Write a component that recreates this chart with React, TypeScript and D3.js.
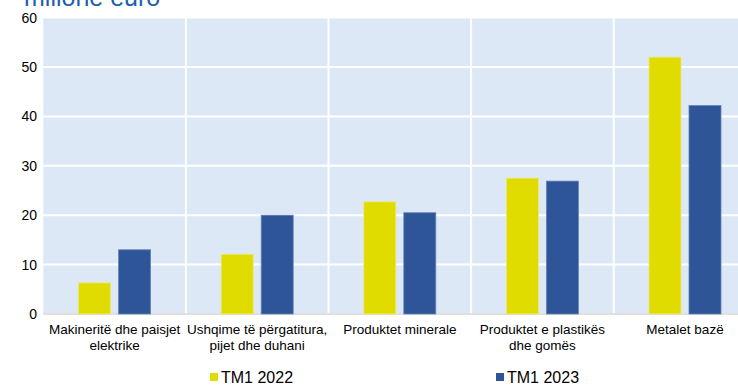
import React from "react";
import * as d3 from "d3";

const categories: string[][] = [
  ["Makineritë dhe paisjet", "elektrike"],
  ["Ushqime të përgatitura,", "pijet dhe duhani"],
  ["Produktet minerale"],
  ["Produktet e plastikës", "dhe gomës"],
  ["Metalet bazë"],
];
const values2022 = [6.3, 12.1, 22.7, 27.5, 52.0];
const values2023 = [13.0, 20.0, 20.5, 26.9, 42.2];
const yTicks = [0, 10, 20, 30, 40, 50, 60];
const seriesNames = ["TM1 2022", "TM1 2023"];

const W = 738;
const H = 385;
const COLORS = ["#e1dc00", "#2e5597"];
const BG = "#dce8f5";

export default function App() {
  const left = 43.3;
  const catW = 142.6;
  const x = d3
    .scaleBand<number>()
    .domain(d3.range(categories.length))
    .range([left, left + catW * categories.length])
    .paddingInner(0)
    .paddingOuter(0);
  const y = d3.scaleLinear().domain([0, 60]).range([314, 17.6]);

  const barW = 32;
  const offsets = [-36, 4];
  const series = [values2022, values2023];

  return (
    <svg
      width={W}
      height={H}
      style={{ position: "absolute", left: 0, top: 0, fontFamily: "Liberation Sans, Arial, sans-serif" }}
    >
      <text x={24} y={6} fontSize={25} fill="#1f5fae">
        milionë euro
      </text>
      <rect x={left} y={y(60)} width={W - left} height={y(0) - y(60)} fill={BG} />
      {yTicks.map((t) => (
        <line key={"g" + t} x1={left} x2={W} y1={y(t)} y2={y(t)} stroke="#fff" strokeWidth={2} />
      ))}
      {d3.range(1, categories.length).map((i) => (
        <line
          key={"v" + i}
          x1={x(i)!}
          x2={x(i)!}
          y1={y(60)}
          y2={y(0)}
          stroke="#fff"
          strokeWidth={2}
        />
      ))}
      <line x1={left} x2={W} y1={y(0)} y2={y(0)} stroke="#d4d4d4" strokeWidth={1.5} />
      {series.map((vals, s) =>
        vals.map((v, i) => {
          const cx = x(i)! + x.bandwidth() / 2;
          return (
            <rect
              key={`b${s}-${i}`}
              x={cx + offsets[s]}
              y={y(v)}
              width={barW}
              height={y(0) - y(v)}
              fill={COLORS[s]}
              stroke={s === 0 ? "#ece97a" : "#6683b4"}
              strokeWidth={0.8}
            />
          );
        })
      )}
      {yTicks.map((t) => (
        <text key={"t" + t} x={37} y={y(t) + 5} fontSize={14} textAnchor="end" fill="#000">
          {t}
        </text>
      ))}
      {categories.map((lines, i) => {
        const cx = x(i)! + x.bandwidth() / 2;
        return (
          <text key={"c" + i} x={cx} y={334} fontSize={13.5} textAnchor="middle" fill="#000">
            {lines.map((l, j) => (
              <tspan key={j} x={cx} dy={j === 0 ? 0 : 16}>
                {l}
              </tspan>
            ))}
          </text>
        );
      })}
      {seriesNames.map((name, s) => {
        const lx = s === 0 ? 210 : 496;
        return (
          <g key={"l" + s}>
            <rect x={lx} y={373} width={8} height={8} fill={COLORS[s]} />
            <text x={lx + 11} y={383} fontSize={16} fill="#000">
              {name}
            </text>
          </g>
        );
      })}
    </svg>
  );
}
